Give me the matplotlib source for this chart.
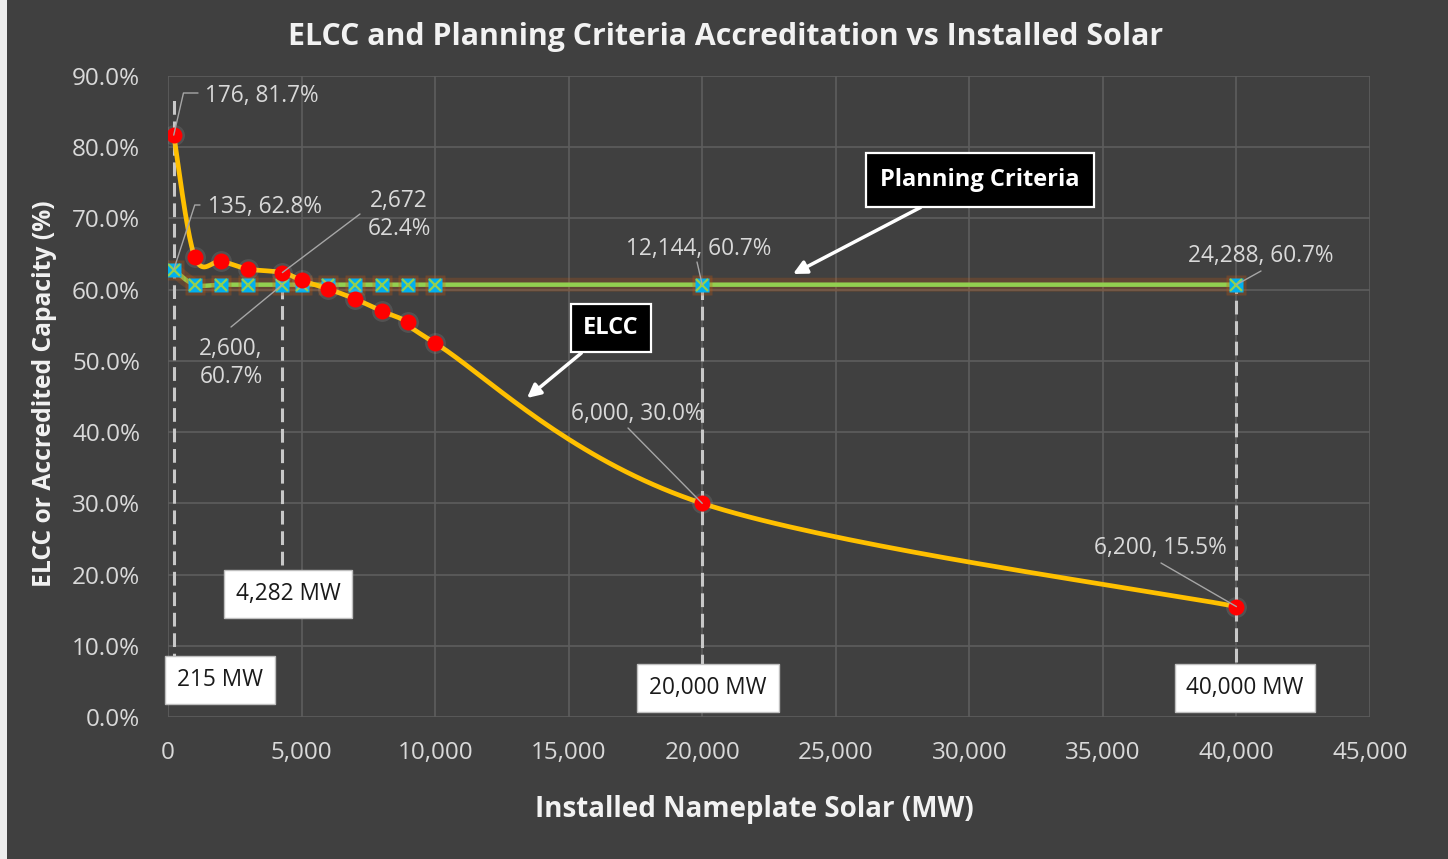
import numpy as np
import matplotlib
matplotlib.use("Agg")
import matplotlib.pyplot as plt
from matplotlib.ticker import PercentFormatter, FuncFormatter
from matplotlib.patches import Rectangle

W, H = 1448, 859
BG = "#404040"
GRID = "#5E5E5E"
TXT = "#D9D9D9"

# ---------------- data ----------------
installed_mw = [215, 1000, 2000, 3000, 4282, 5000, 6000, 7000, 8000, 9000, 10000, 20000, 40000]
elcc = [0.817, 0.646, 0.640, 0.629, 0.624, 0.613, 0.601, 0.587, 0.570, 0.554, 0.525, 0.300, 0.155]
planning = [0.628, 0.607, 0.607, 0.607, 0.607, 0.607, 0.607, 0.607, 0.607, 0.607, 0.607, 0.607, 0.607]
marked_mw = [215, 4282, 20000, 40000]
marked_labels = ["215 MW", "4,282 MW", "20,000 MW", "40,000 MW"]
x_ticks = [0, 5000, 10000, 15000, 20000, 25000, 30000, 35000, 40000, 45000]
y_ticks = [0.0, 0.1, 0.2, 0.3, 0.4, 0.5, 0.6, 0.7, 0.8, 0.9]

plt.rcParams['font.family'] = ['Open Sans', 'DejaVu Sans']

fig = plt.figure(figsize=(W / 100, H / 100), dpi=100, facecolor=BG)
L, R, T, B = 168, 1370, 76, 717
ax = fig.add_axes([L / W, 1 - B / H, (R - L) / W, (B - T) / H], facecolor=BG)
ax.set_xlim(0, 45000)
ax.set_ylim(0, 0.9)
ax.set_xticks(x_ticks)
ax.set_yticks(y_ticks)
ax.xaxis.set_major_formatter(FuncFormatter(lambda v, p: f"{v:,.0f}"))
ax.yaxis.set_major_formatter(PercentFormatter(1.0, decimals=1))
ax.grid(True, color=GRID, lw=1.2)
ax.set_axisbelow(True)
for s in ax.spines.values():
    s.set_visible(False)
ax.tick_params(length=0, colors=TXT, labelsize=17.5)
ax.tick_params(axis='x', pad=17)
ax.tick_params(axis='y', pad=20)

# left white strip of the original screenshot
fig.patches.append(Rectangle((0, 0), 7 / W, 1, transform=fig.transFigure,
                             facecolor="#EDEDED", edgecolor='none'))


def smooth(xs, ys, n=40):
    """Excel-like smoothed line (Catmull-Rom Bezier) computed in display space."""
    pts = ax.transData.transform(np.column_stack([xs, ys]))
    P = np.vstack([pts[0], pts, pts[-1]])
    out = []
    t = np.linspace(0, 1, n)[:, None]
    for i in range(1, len(P) - 2):
        p0, p1, p2, p3 = P[i - 1], P[i], P[i + 1], P[i + 2]
        c1 = p1 + (p2 - p0) / 6.0
        c2 = p2 - (p3 - p1) / 6.0
        seg = ((1 - t) ** 3) * p1 + 3 * ((1 - t) ** 2) * t * c1 + 3 * (1 - t) * t ** 2 * c2 + t ** 3 * p2
        out.append(seg)
    d = np.vstack(out)
    return ax.transData.inverted().transform(d).T


# vertical dashed marker lines
vl_top = [0.873, 0.600, 0.607, 0.607]
vl_bot = [0.070, 0.213, 0.069, 0.077]
ax.vlines(marked_mw, vl_bot, vl_top, colors="#C8C8C8", lw=2.2, linestyles=(0, (4.5, 2.2)), zorder=2)

# planning criteria line with orange glow
px_, py_ = smooth(installed_mw, planning)
ax.plot(px_, py_, color="#C55A11", lw=10, alpha=0.25, zorder=3, solid_capstyle='round')
ax.plot(px_, py_, color="#92D050", lw=3.2, zorder=4)
ax.plot(installed_mw, planning, ls='none', marker='s', ms=15, color="#C55A11", alpha=0.3, mec='none', zorder=4)
ax.plot(installed_mw, planning, ls='none', marker='s', ms=10, color="#00B0F0", mec='none', zorder=5)
ax.plot(installed_mw, planning, ls='none', marker='x', ms=9, color="#92D050", mew=1.6, zorder=6)

# ELCC line
ex, ey = smooth(installed_mw, elcc)
ax.plot(ex, ey, color="#FFC000", lw=3.4, zorder=7)
ax.plot(installed_mw, elcc, ls='none', marker='o', ms=15, color="#BFBFBF", alpha=0.15, mec='none', zorder=7)
ax.plot(installed_mw, elcc, ls='none', marker='o', ms=11.5, color="#FF0000", mec='none', zorder=8)


def fpx(x, y):
    return (x, H - y)


LEAD = dict(arrowstyle='-', color="#A6A6A6", lw=1.0, shrinkA=0, shrinkB=0)

# data labels: (text, data x, data y, text center px, leader anchor px, connection)
labels = [
    ("176, 81.7%", installed_mw[0], elcc[0], (262, 96), (198, 93), "angle,angleA=0,angleB=77,rad=0"),
    ("135, 62.8%", installed_mw[0], planning[0], (265, 207), (200, 205), "angle,angleA=0,angleB=72,rad=0"),
    ("2,672\n62.4%", installed_mw[4], elcc[4], (399, 215), (360, 214), "arc3"),
    ("2,600,\n60.7%", installed_mw[4], planning[4], (231, 363), (231, 327), "arc3"),
    ("12,144, 60.7%", installed_mw[11], planning[11], (699, 249), (697, 262), "arc3"),
    ("6,000, 30.0%", installed_mw[11], elcc[11], (637, 414), (628, 428), "arc3"),
    ("24,288, 60.7%", installed_mw[12], planning[12], (1261, 256), (1261, 271), "arc3"),
    ("6,200, 15.5%", installed_mw[12], elcc[12], (1160, 548), (1161, 563), "arc3"),
]
for txt, xd, yd, tc, anchor, cs in labels:
    ax.annotate('', xy=(xd, yd), xycoords='data', xytext=fpx(*anchor), textcoords='figure pixels',
                arrowprops=dict(LEAD, connectionstyle=cs), zorder=9)
    fig.text(tc[0] / W, 1 - tc[1] / H, txt, color=TXT, fontsize=16.3, ha='center', va='center',
             linespacing=1.25, zorder=10)

# MW boxes
box_centers = [(220, 680), (288, 594), (708, 688), (1245, 688)]
for lab, c in zip(marked_labels, box_centers):
    fig.text(c[0] / W, 1 - c[1] / H, lab, color="#1A1A1A", fontsize=16.3, ha='center', va='center',
             bbox=dict(boxstyle='square,pad=0.52', fc='white', ec='#BFBFBF', lw=1), zorder=11)

# callout boxes with arrows
ax.annotate("Planning Criteria", xy=fpx(793, 274), xycoords='figure pixels', xytext=fpx(980, 180),
            textcoords='figure pixels', ha='center', va='center', color='white', fontsize=17,
            fontweight='bold',
            bbox=dict(boxstyle='square,pad=0.62', fc='black', ec='white', lw=1.6),
            arrowprops=dict(arrowstyle='-|>', color='white', lw=2.5, mutation_scale=20,
                            shrinkA=0, shrinkB=0, relpos=(0.35, 0.0)), zorder=12)
ax.annotate("ELCC", xy=fpx(527, 398), xycoords='figure pixels', xytext=fpx(611, 328),
            textcoords='figure pixels', ha='center', va='center', color='white', fontsize=17,
            fontweight='bold',
            bbox=dict(boxstyle='square,pad=0.52', fc='black', ec='white', lw=1.6),
            arrowprops=dict(arrowstyle='-|>', color='white', lw=2.5, mutation_scale=20,
                            shrinkA=0, shrinkB=0, relpos=(0.25, 0.0)), zorder=12)

# titles
fig.text(726 / W, 1 - 37 / H, "ELCC and Planning Criteria Accreditation vs Installed Solar",
         color="#F2F2F2", fontsize=21.8, fontweight='bold', ha='center', va='center')
fig.text(754 / W, 1 - 810 / H, "Installed Nameplate Solar (MW)", color="#F2F2F2", fontsize=20,
         fontweight='bold', ha='center', va='center')
fig.text(45 / W, 1 - 394 / H, "ELCC or Accredited Capacity (%)", color="#F2F2F2", fontsize=17.7,
         fontweight='bold', ha='center', va='center', rotation=90)

fig.savefig("out.png", dpi=100, facecolor=BG)
